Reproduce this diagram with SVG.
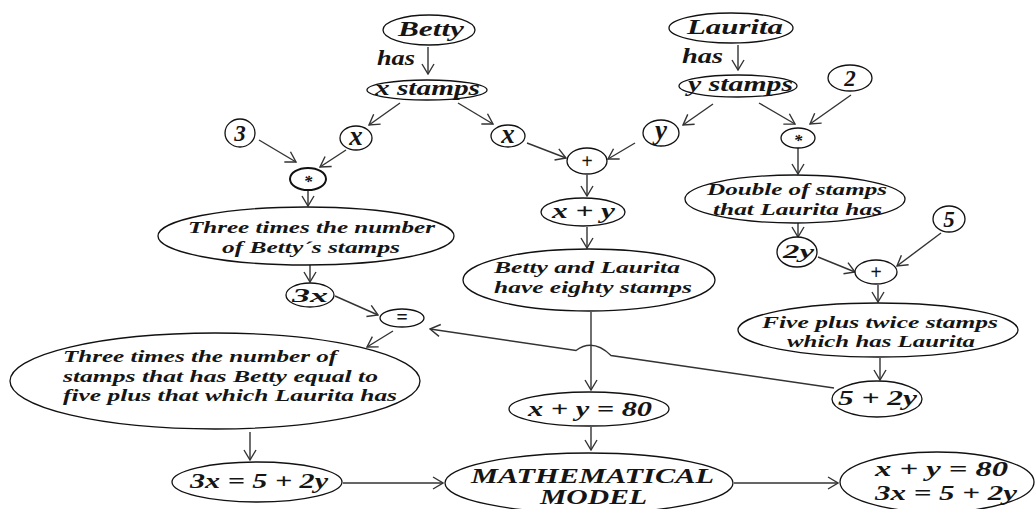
<svg xmlns="http://www.w3.org/2000/svg" width="1036" height="509" viewBox="0 0 1036 509">
<style>
.n ellipse{fill:#fff;stroke:#111;stroke-width:1.3}
text{font-family:"Liberation Serif","Times New Roman",serif;font-weight:bold;font-style:italic;fill:#151515}
.b{font-size:20px}
.l{font-size:23px}
.v{font-size:27px}
.m{font-size:17px}
.c{text-anchor:middle}
#edges path{fill:none;stroke:#333;stroke-width:1.4}
</style>
<defs>
<marker id="ah" viewBox="-11 -7 12 14" refX="0" refY="0" markerWidth="12" markerHeight="14" markerUnits="userSpaceOnUse" orient="auto">
<path d="M-10,-6 L0,0 L-10,6" fill="none" stroke="#333" stroke-width="1.4"/>
</marker>
</defs>
<rect width="1036" height="509" fill="#fff"/>
<g id="edges">
<path d="M428,47 L428,74" marker-end="url(#ah)"/>
<path d="M738,45 L738,70" marker-end="url(#ah)"/>
<path d="M400,103 L369,125" marker-end="url(#ah)"/>
<path d="M458,103 L493,124" marker-end="url(#ah)"/>
<path d="M713,104 L683,125" marker-end="url(#ah)"/>
<path d="M759,103 L795,124" marker-end="url(#ah)"/>
<path d="M851,95 L810,124" marker-end="url(#ah)"/>
<path d="M259,140 L296,162" marker-end="url(#ah)"/>
<path d="M346,150 L320,167" marker-end="url(#ah)"/>
<path d="M527,143 L566,158" marker-end="url(#ah)"/>
<path d="M635,143 L608,159" marker-end="url(#ah)"/>
<path d="M308,190 L308,206" marker-end="url(#ah)"/>
<path d="M587,175 L587,196" marker-end="url(#ah)"/>
<path d="M798,148 L798,174" marker-end="url(#ah)"/>
<path d="M310,265 L310,282" marker-end="url(#ah)"/>
<path d="M587,227 L587,248" marker-end="url(#ah)"/>
<path d="M798,223 L798,237" marker-end="url(#ah)"/>
<path d="M818,257 L855,272" marker-end="url(#ah)"/>
<path d="M941,233 L897,266" marker-end="url(#ah)"/>
<path d="M878,285 L878,302" marker-end="url(#ah)"/>
<path d="M880,358 L880,380" marker-end="url(#ah)"/>
<path d="M335,296 L378,315" marker-end="url(#ah)"/>
<path d="M393,331 L367,347" marker-end="url(#ah)"/>
<path d="M834,388 L611,355.5 Q593,338 576,350.5 L430,329" marker-end="url(#ah)"/>
<path d="M591,312 L591,390" marker-end="url(#ah)"/>
<path d="M250,432 L250,460" marker-end="url(#ah)"/>
<path d="M591,427 L591,450" marker-end="url(#ah)"/>
<path d="M343,483 L443,483" marker-end="url(#ah)"/>
<path d="M734,483 L838,483" marker-end="url(#ah)"/>
</g>
<g id="lbl-has-1"><text class="b" x="377" y="65" textLength="38" lengthAdjust="spacingAndGlyphs">has</text></g>
<g id="lbl-has-2"><text class="b" x="682" y="63" textLength="41" lengthAdjust="spacingAndGlyphs">has</text></g>
<g id="betty" class="n"><ellipse cx="429" cy="30" rx="46" ry="15"/><text class="b" x="398" y="36" textLength="66" lengthAdjust="spacingAndGlyphs">Betty</text></g>
<g id="laurita" class="n"><ellipse cx="731" cy="28" rx="62" ry="15"/><text class="b" x="687" y="34" textLength="96" lengthAdjust="spacingAndGlyphs">Laurita</text></g>
<g id="xstamps" class="n"><ellipse cx="427" cy="90" rx="60" ry="10"/><text class="b" x="375" y="95" textLength="105" lengthAdjust="spacingAndGlyphs">x stamps</text></g>
<g id="ystamps" class="n"><ellipse cx="738" cy="86" rx="59" ry="11"/><text class="b" x="688" y="91" textLength="105" lengthAdjust="spacingAndGlyphs">y stamps</text></g>
<g id="n2" class="n"><ellipse cx="850" cy="78" rx="22" ry="13"/><text class="l c" x="850" y="86">2</text></g>
<g id="n3" class="n"><ellipse cx="240" cy="133" rx="15" ry="14"/><text class="l c" x="240" y="141">3</text></g>
<g id="xL" class="n"><ellipse cx="356" cy="138" rx="16" ry="12"/><text class="v c" x="356" y="145">x</text></g>
<g id="xM" class="n"><ellipse cx="508" cy="136" rx="17" ry="11"/><text class="v c" x="508" y="143">x</text></g>
<g id="yN" class="n"><ellipse cx="661" cy="133" rx="18" ry="13"/><text class="v c" x="661" y="139">y</text></g>
<g id="mulL" class="n"><ellipse cx="308" cy="179" rx="18" ry="11" style="stroke-width:2"/><text class="m c" x="308" y="187">*</text></g>
<g id="mulR" class="n"><ellipse cx="798" cy="138" rx="17" ry="10"/><text class="m c" x="798" y="146">*</text></g>
<g id="plusM" class="n"><ellipse cx="587" cy="161" rx="20" ry="13"/><text class="b c" x="587" y="168">+</text></g>
<g id="three" class="n"><ellipse cx="306" cy="236" rx="148" ry="29"/><text class="m" x="188" y="233" textLength="247" lengthAdjust="spacingAndGlyphs">Three times the number</text><text class="m" x="222" y="253" textLength="178" lengthAdjust="spacingAndGlyphs">of Betty´s stamps</text></g>
<g id="xy" class="n"><ellipse cx="583" cy="212" rx="42" ry="14"/><text class="b" x="552" y="218" textLength="63" lengthAdjust="spacingAndGlyphs">x + y</text></g>
<g id="double" class="n"><ellipse cx="795" cy="199" rx="110" ry="24"/><text class="m" x="707" y="195" textLength="180" lengthAdjust="spacingAndGlyphs">Double of stamps</text><text class="m" x="713" y="215" textLength="169" lengthAdjust="spacingAndGlyphs">that Laurita has</text></g>
<g id="n5" class="n"><ellipse cx="949" cy="219" rx="16" ry="13"/><text class="l c" x="949" y="227">5</text></g>
<g id="twoy" class="n"><ellipse cx="797" cy="252" rx="20" ry="15"/><text class="b" x="783" y="258" textLength="31" lengthAdjust="spacingAndGlyphs" style="font-size:19px">2y</text></g>
<g id="plusR" class="n"><ellipse cx="876" cy="272" rx="21" ry="12"/><text class="b c" x="876" y="279">+</text></g>
<g id="eighty" class="n"><ellipse cx="589" cy="280" rx="126" ry="31"/><text class="m" x="494" y="273" textLength="186" lengthAdjust="spacingAndGlyphs">Betty and Laurita</text><text class="m" x="494" y="293" textLength="198" lengthAdjust="spacingAndGlyphs">have eighty stamps</text></g>
<g id="threex" class="n"><ellipse cx="310" cy="295" rx="24" ry="12"/><text class="b" x="292" y="302" textLength="36" lengthAdjust="spacingAndGlyphs" style="font-size:19px">3x</text></g>
<g id="eq" class="n"><ellipse cx="402" cy="318" rx="22" ry="9"/><text class="b c" x="402" y="324">=</text></g>
<g id="fiveplus" class="n"><ellipse cx="878" cy="330" rx="140" ry="27"/><text class="m" x="762" y="328" textLength="236" lengthAdjust="spacingAndGlyphs">Five plus twice stamps</text><text class="m" x="787" y="347" textLength="188" lengthAdjust="spacingAndGlyphs">which has Laurita</text></g>
<g id="big" class="n"><ellipse cx="215" cy="381" rx="205" ry="48"/><text class="m" x="63" y="362" textLength="274" lengthAdjust="spacingAndGlyphs">Three times the number of</text><text class="m" x="63" y="382" textLength="315" lengthAdjust="spacingAndGlyphs">stamps that has Betty equal to</text><text class="m" x="63" y="401" textLength="334" lengthAdjust="spacingAndGlyphs">five plus that which Laurita has</text></g>
<g id="fiveplus2y" class="n"><ellipse cx="877" cy="399" rx="45" ry="18"/><text class="b" x="838" y="405" textLength="79" lengthAdjust="spacingAndGlyphs">5 + 2y</text></g>
<g id="xy80" class="n"><ellipse cx="589" cy="409" rx="80" ry="17"/><text class="b" x="528" y="416" textLength="124" lengthAdjust="spacingAndGlyphs">x + y = 80</text></g>
<g id="eq2" class="n"><ellipse cx="257" cy="482" rx="85" ry="20"/><text class="b" x="190" y="488" textLength="138" lengthAdjust="spacingAndGlyphs">3x = 5 + 2y</text></g>
<g id="model" class="n"><ellipse cx="589" cy="483" rx="144" ry="30"/><text class="b" x="471" y="483" textLength="243" lengthAdjust="spacingAndGlyphs">MATHEMATICAL</text><text class="b" x="540" y="504" textLength="107" lengthAdjust="spacingAndGlyphs">MODEL</text></g>
<g id="system" class="n"><ellipse cx="937" cy="482" rx="97" ry="30"/><text class="b" x="875" y="476" textLength="133" lengthAdjust="spacingAndGlyphs">x +  y = 80</text><text class="b" x="875" y="500" textLength="142" lengthAdjust="spacingAndGlyphs">3x = 5 + 2y</text></g>
</svg>
